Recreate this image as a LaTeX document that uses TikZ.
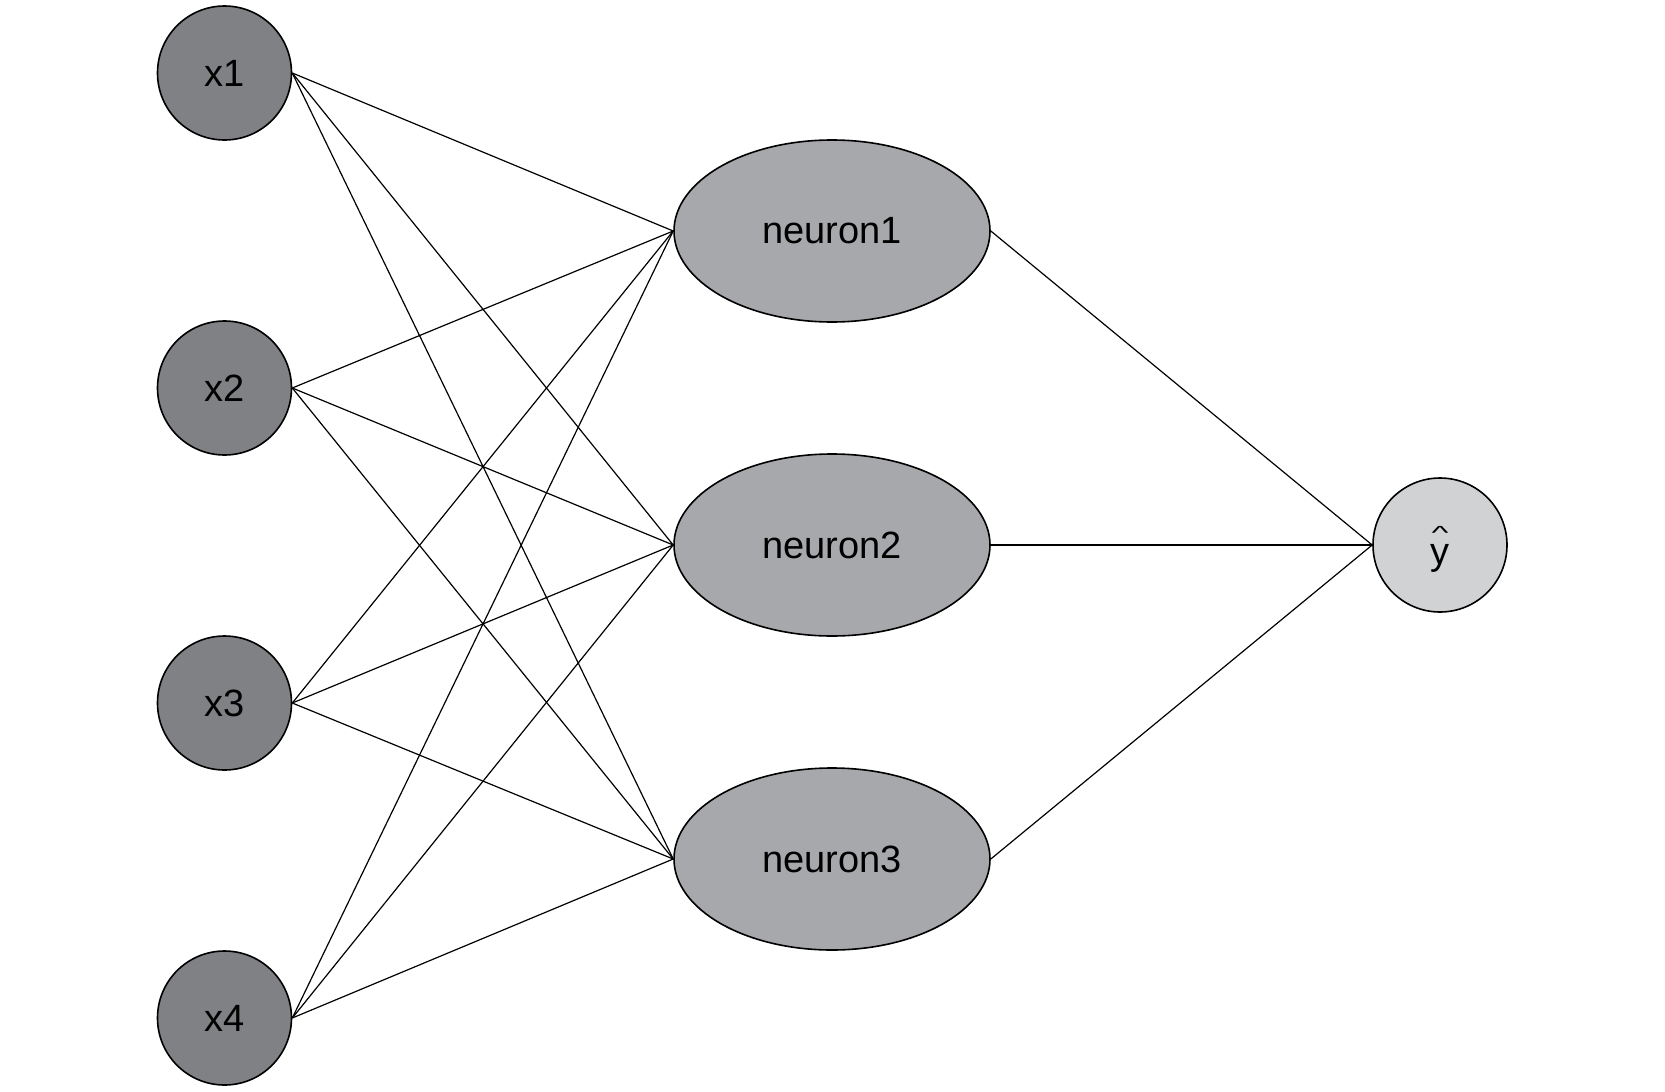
\documentclass[tikz,border=0pt]{standalone}
\usepackage{fontspec}
\setmainfont{Liberation Sans}
\usetikzlibrary{shapes.geometric}
\definecolor{inputgray}{HTML}{808184}
\definecolor{hiddengray}{HTML}{A7A8AB}
\definecolor{outgray}{HTML}{D1D2D4}
\begin{document}
\begin{tikzpicture}[x=0.5pt,y=-0.5pt,
  inputnode/.style={circle,draw=black,line width=0.8pt,fill=inputgray,minimum size=67pt,inner sep=0pt,font=\fontsize{19}{22}\selectfont},
  hiddennode/.style={ellipse,draw=black,line width=0.8pt,fill=hiddengray,minimum width=158pt,minimum height=91pt,inner sep=0pt,font=\fontsize{19}{22}\selectfont},
  outnode/.style={circle,draw=black,line width=0.8pt,fill=outgray,minimum size=67pt,inner sep=0pt,font=\fontsize{19}{22}\selectfont,text height=19pt,text depth=0pt},
  wire/.style={draw=black,line width=0.6pt}]
\useasboundingbox (0,0) rectangle (1665,1092);
\node[inputnode] (x1) at (224.5,73) {x1};
\node[inputnode] (x2) at (224.5,388) {x2};
\node[inputnode] (x3) at (224.5,703) {x3};
\node[inputnode] (x4) at (224.5,1018) {x4};
\node[hiddennode] (n1) at (832,231) {neuron1};
\node[hiddennode] (n2) at (832,545) {neuron2};
\node[hiddennode] (n3) at (832,859) {neuron3};
\node[outnode] (y) at (1440,545) {\makebox[0pt][l]{\makebox[9.5pt][c]{\smash{\raisebox{12.4pt}{\scalebox{0.95}[0.5]{\textasciicircum}}}}}y};
\foreach \i in {x1,x2,x3,x4}{
  \foreach \j in {n1,n2,n3}{
    \draw[wire] (\i.east) -- (\j.west);
  }
}
\foreach \j in {n1,n2,n3}{
  \draw[wire] (\j.east) -- (y.west);
}
\end{tikzpicture}
\end{document}
